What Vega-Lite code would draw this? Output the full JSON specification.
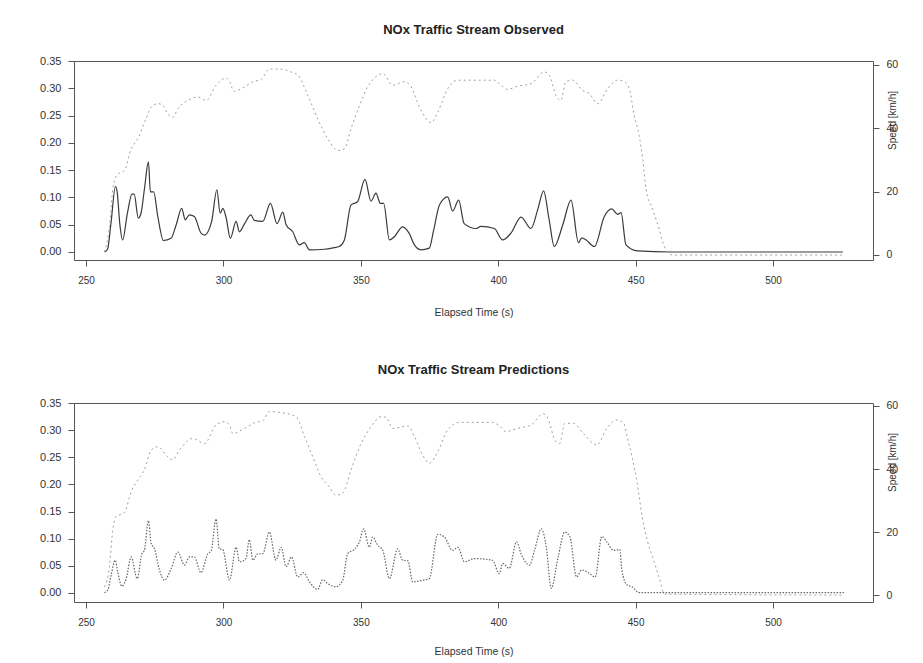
{
  "$schema": "https://vega.github.io/schema/vega-lite/v6.json",
  "padding": {"left": 39, "top": 23, "right": 5, "bottom": 2},
  "background": "white",
  "config": {
    "font": "Liberation Sans",
    "view": {"stroke": "#555", "strokeWidth": 1},
    "axis": {"grid": false, "domain": false, "tickColor": "#555", "tickSize": 6, "labelColor": "#333", "labelFont": "Liberation Sans", "labelFontSize": 10.5, "titleFont": "Liberation Sans", "titleFontWeight": "normal", "titleColor": "#333"},
    "title": {"font": "Liberation Sans", "fontSize": 13, "fontWeight": "bold", "color": "#222", "baseline": "alphabetic", "anchor": "middle"}
  },
  "spacing": 143,
  "bounds": "flush",
  "vconcat": [
    {
      "title": {"text": "NOx Traffic Stream Observed", "offset": 18},
      "width": 799,
      "height": 199,
      "layer": [
        {
          "data": {"name": "obs"},
          "mark": {"type": "line", "color": "#3a3a3a", "strokeWidth": 1.2, "interpolate": "monotone"},
          "encoding": {
            "x": {"field": "t", "type": "quantitative", "scale": {"domain": [245.6, 536.4], "nice": false, "zero": false},
              "axis": {"values": [250, 300, 350, 400, 450, 500], "title": "Elapsed Time (s)", "titleFontSize": 10.5, "titleBaseline": "middle", "titleY": 52, "labelPadding": 9, "labelFontSize": 10}},
            "y": {"field": "nox", "type": "quantitative", "scale": {"domain": [-0.0147, 0.35], "nice": false, "zero": false},
              "axis": {"values": [0, 0.05, 0.1, 0.15, 0.2, 0.25, 0.3, 0.35], "format": ".2f", "title": null, "labelFontSize": 11, "labelPadding": 7}}
          }
        },
        {
          "data": {"name": "obsSpeed"},
          "mark": {"type": "line", "color": "#a0a0a0", "strokeWidth": 1, "strokeDash": [2, 3], "interpolate": "monotone"},
          "encoding": {
            "x": {"field": "t", "type": "quantitative"},
            "y": {"field": "speed", "type": "quantitative", "scale": {"domain": [-1.58, 61.26], "nice": false, "zero": false},
              "axis": {"orient": "right", "values": [0, 20, 40, 60], "title": "Speed [km/h]", "titleAngle": 270, "titleX": 19, "titleY": 59, "titleAlign": "center", "titleBaseline": "middle", "titleFontSize": 10, "labelPadding": 7}}
          }
        }
      ],
      "resolve": {"scale": {"y": "independent"}}
    },
    {
      "title": {"text": "NOx Traffic Stream Predictions", "offset": 20},
      "width": 799,
      "height": 199,
      "layer": [
        {
          "data": {"name": "pred"},
          "mark": {"type": "line", "color": "#666", "strokeWidth": 1.2, "strokeDash": [1.5, 1.5], "interpolate": "monotone"},
          "encoding": {
            "x": {"field": "t", "type": "quantitative", "scale": {"domain": [245.6, 536.4], "nice": false, "zero": false},
              "axis": {"values": [250, 300, 350, 400, 450, 500], "title": "Elapsed Time (s)", "titleFontSize": 10.5, "titleBaseline": "middle", "titleY": 49, "labelPadding": 9, "labelFontSize": 10}},
            "y": {"field": "nox", "type": "quantitative", "scale": {"domain": [-0.0172, 0.3505], "nice": false, "zero": false},
              "axis": {"values": [0, 0.05, 0.1, 0.15, 0.2, 0.25, 0.3, 0.35], "format": ".2f", "title": null, "labelFontSize": 11, "labelPadding": 7}}
          }
        },
        {
          "data": {"name": "predSpeed"},
          "mark": {"type": "line", "color": "#a0a0a0", "strokeWidth": 1, "strokeDash": [2, 3], "interpolate": "monotone"},
          "encoding": {
            "x": {"field": "t", "type": "quantitative"},
            "y": {"field": "speed", "type": "quantitative", "scale": {"domain": [-2.2, 60.95], "nice": false, "zero": false},
              "axis": {"orient": "right", "values": [0, 20, 40, 60], "title": "Speed [km/h]", "titleAngle": 270, "titleX": 19, "titleY": 59, "titleAlign": "center", "titleBaseline": "middle", "titleFontSize": 10, "labelPadding": 7}}
          }
        }
      ],
      "resolve": {"scale": {"y": "independent"}}
    }
  ],
  "datasets": {
    "obs": [
      {"t": 256.7, "nox": 0}, {"t": 257.8, "nox": 0.005}, {"t": 259, "nox": 0.05}, {"t": 260.7, "nox": 0.12}, {"t": 261.3, "nox": 0.11}, {"t": 262.3, "nox": 0.05}, {"t": 263.3, "nox": 0.022}, {"t": 265, "nox": 0.07}, {"t": 266.7, "nox": 0.106}, {"t": 267.5, "nox": 0.106}, {"t": 269, "nox": 0.062}, {"t": 270, "nox": 0.071}, {"t": 271.2, "nox": 0.114}, {"t": 272.7, "nox": 0.165}, {"t": 273.4, "nox": 0.11}, {"t": 274.6, "nox": 0.11}, {"t": 276.1, "nox": 0.065}, {"t": 278.2, "nox": 0.021}, {"t": 280.9, "nox": 0.025}, {"t": 282.8, "nox": 0.05}, {"t": 284.8, "nox": 0.08}, {"t": 286.1, "nox": 0.059}, {"t": 287.6, "nox": 0.068}, {"t": 289.4, "nox": 0.065}, {"t": 291.9, "nox": 0.034}, {"t": 293.1, "nox": 0.031}, {"t": 295.7, "nox": 0.056}, {"t": 297.6, "nox": 0.114}, {"t": 298.8, "nox": 0.071}, {"t": 299.8, "nox": 0.08}, {"t": 301, "nox": 0.062}, {"t": 302.5, "nox": 0.025}, {"t": 304.6, "nox": 0.056}, {"t": 305.8, "nox": 0.037}, {"t": 307.6, "nox": 0.051}, {"t": 310, "nox": 0.068}, {"t": 311.2, "nox": 0.058}, {"t": 314.3, "nox": 0.056}, {"t": 317.1, "nox": 0.089}, {"t": 319.5, "nox": 0.052}, {"t": 321.6, "nox": 0.073}, {"t": 322.8, "nox": 0.05}, {"t": 325.2, "nox": 0.037}, {"t": 327.6, "nox": 0.013}, {"t": 329.4, "nox": 0.017}, {"t": 331.3, "nox": 0.004}, {"t": 336.7, "nox": 0.005}, {"t": 340.3, "nox": 0.008}, {"t": 342.1, "nox": 0.01}, {"t": 344, "nox": 0.022}, {"t": 346.4, "nox": 0.086}, {"t": 348.8, "nox": 0.092}, {"t": 351.5, "nox": 0.133}, {"t": 353.7, "nox": 0.093}, {"t": 355.5, "nox": 0.108}, {"t": 357.1, "nox": 0.089}, {"t": 358.3, "nox": 0.089}, {"t": 360.4, "nox": 0.022}, {"t": 362.2, "nox": 0.028}, {"t": 365.2, "nox": 0.046}, {"t": 367.6, "nox": 0.034}, {"t": 369.5, "nox": 0.013}, {"t": 371.9, "nox": 0.004}, {"t": 374.9, "nox": 0.007}, {"t": 376.5, "nox": 0.04}, {"t": 378.6, "nox": 0.086}, {"t": 381.6, "nox": 0.101}, {"t": 383.4, "nox": 0.075}, {"t": 385.6, "nox": 0.095}, {"t": 387.6, "nox": 0.052}, {"t": 391.9, "nox": 0.043}, {"t": 393.7, "nox": 0.047}, {"t": 398.6, "nox": 0.043}, {"t": 401.6, "nox": 0.022}, {"t": 404.7, "nox": 0.035}, {"t": 408.3, "nox": 0.064}, {"t": 411.9, "nox": 0.043}, {"t": 414.5, "nox": 0.08}, {"t": 416.5, "nox": 0.112}, {"t": 418.5, "nox": 0.06}, {"t": 420.4, "nox": 0.01}, {"t": 423.5, "nox": 0.05}, {"t": 426.5, "nox": 0.095}, {"t": 429.2, "nox": 0.017}, {"t": 430.4, "nox": 0.026}, {"t": 432, "nox": 0.022}, {"t": 435, "nox": 0.01}, {"t": 438.6, "nox": 0.065}, {"t": 441.3, "nox": 0.079}, {"t": 443.5, "nox": 0.069}, {"t": 444.7, "nox": 0.072}, {"t": 446.5, "nox": 0.013}, {"t": 450.7, "nox": 0.002}, {"t": 462.9, "nox": 0}, {"t": 525.4, "nox": 0}
    ],
    "obsSpeed": [
      {"t": 256.7, "speed": 1}, {"t": 258.5, "speed": 9}, {"t": 259.7, "speed": 20.6}, {"t": 260.3, "speed": 23.4}, {"t": 261.5, "speed": 25.5}, {"t": 263.9, "speed": 26.6}, {"t": 266.4, "speed": 33.5}, {"t": 268.8, "speed": 36.7}, {"t": 271.8, "speed": 43}, {"t": 273.7, "speed": 46.7}, {"t": 276.1, "speed": 47.8}, {"t": 277.9, "speed": 47.3}, {"t": 279.7, "speed": 44.6}, {"t": 281.6, "speed": 43.5}, {"t": 283.4, "speed": 46.2}, {"t": 287, "speed": 48.8}, {"t": 290.6, "speed": 49.9}, {"t": 293.7, "speed": 48.8}, {"t": 297.3, "speed": 53.6}, {"t": 301, "speed": 55.9}, {"t": 302.2, "speed": 54.8}, {"t": 303.8, "speed": 51.7}, {"t": 307.1, "speed": 52.8}, {"t": 310.7, "speed": 54.7}, {"t": 313.8, "speed": 55.5}, {"t": 316.7, "speed": 58.7}, {"t": 321, "speed": 58.7}, {"t": 324.6, "speed": 57.8}, {"t": 327.1, "speed": 56.8}, {"t": 330.7, "speed": 50.4}, {"t": 334.3, "speed": 43}, {"t": 338, "speed": 36.7}, {"t": 341.6, "speed": 33}, {"t": 344, "speed": 33.5}, {"t": 346.4, "speed": 39.8}, {"t": 349.5, "speed": 47.2}, {"t": 352.5, "speed": 53.1}, {"t": 355.5, "speed": 56.3}, {"t": 358, "speed": 57.3}, {"t": 361.6, "speed": 53.6}, {"t": 365.9, "speed": 54.7}, {"t": 368.3, "speed": 53.1}, {"t": 371.3, "speed": 46.7}, {"t": 374.3, "speed": 42.5}, {"t": 375.6, "speed": 41.8}, {"t": 378, "speed": 45.1}, {"t": 381.6, "speed": 52.5}, {"t": 385.3, "speed": 55.2}, {"t": 398.6, "speed": 55.2}, {"t": 401, "speed": 53.6}, {"t": 403.4, "speed": 52.3}, {"t": 407, "speed": 53.3}, {"t": 411.9, "speed": 54.1}, {"t": 416.8, "speed": 57.8}, {"t": 418.6, "speed": 56.8}, {"t": 421, "speed": 50.4}, {"t": 422.8, "speed": 48.8}, {"t": 424.6, "speed": 54.7}, {"t": 427.1, "speed": 55.2}, {"t": 430.7, "speed": 52}, {"t": 433.1, "speed": 51}, {"t": 436.2, "speed": 47.8}, {"t": 439.8, "speed": 52.5}, {"t": 443.5, "speed": 55.2}, {"t": 445.9, "speed": 54.7}, {"t": 447.7, "speed": 52.5}, {"t": 449.5, "speed": 44}, {"t": 451.3, "speed": 37.7}, {"t": 452.6, "speed": 30.3}, {"t": 453.8, "speed": 20.8}, {"t": 456.2, "speed": 14.4}, {"t": 458.6, "speed": 8.1}, {"t": 460.4, "speed": 2.8}, {"t": 463.5, "speed": 0}, {"t": 525.4, "speed": 0}
    ],
    "pred": [
      {"t": 256.7, "nox": 0}, {"t": 257.9, "nox": 0.005}, {"t": 259.1, "nox": 0.032}, {"t": 260.6, "nox": 0.06}, {"t": 261.5, "nox": 0.039}, {"t": 263, "nox": 0.012}, {"t": 264.6, "nox": 0.026}, {"t": 266.4, "nox": 0.066}, {"t": 268.6, "nox": 0.026}, {"t": 270.3, "nox": 0.072}, {"t": 271.2, "nox": 0.078}, {"t": 272.7, "nox": 0.133}, {"t": 273.7, "nox": 0.091}, {"t": 274.9, "nox": 0.081}, {"t": 276.7, "nox": 0.042}, {"t": 278.5, "nox": 0.023}, {"t": 281, "nox": 0.045}, {"t": 283.4, "nox": 0.075}, {"t": 285.8, "nox": 0.051}, {"t": 287.6, "nox": 0.066}, {"t": 289.4, "nox": 0.066}, {"t": 291.8, "nox": 0.037}, {"t": 294.3, "nox": 0.072}, {"t": 295.5, "nox": 0.077}, {"t": 297.3, "nox": 0.136}, {"t": 298.5, "nox": 0.081}, {"t": 299.7, "nox": 0.08}, {"t": 302.2, "nox": 0.023}, {"t": 304.6, "nox": 0.084}, {"t": 305.8, "nox": 0.057}, {"t": 308.2, "nox": 0.063}, {"t": 309.4, "nox": 0.098}, {"t": 310.7, "nox": 0.06}, {"t": 312.5, "nox": 0.072}, {"t": 314.3, "nox": 0.072}, {"t": 316.7, "nox": 0.112}, {"t": 319.1, "nox": 0.06}, {"t": 321, "nox": 0.084}, {"t": 322.8, "nox": 0.048}, {"t": 324.8, "nox": 0.066}, {"t": 327, "nox": 0.029}, {"t": 329.2, "nox": 0.037}, {"t": 331.3, "nox": 0.02}, {"t": 334.3, "nox": 0.006}, {"t": 336.1, "nox": 0.024}, {"t": 337.9, "nox": 0.017}, {"t": 341, "nox": 0.011}, {"t": 343.4, "nox": 0.023}, {"t": 345.2, "nox": 0.072}, {"t": 347.6, "nox": 0.08}, {"t": 349.5, "nox": 0.094}, {"t": 351, "nox": 0.118}, {"t": 353.1, "nox": 0.084}, {"t": 354.3, "nox": 0.103}, {"t": 356.1, "nox": 0.088}, {"t": 358, "nox": 0.078}, {"t": 360.4, "nox": 0.026}, {"t": 363.4, "nox": 0.081}, {"t": 365.2, "nox": 0.06}, {"t": 367.1, "nox": 0.059}, {"t": 368.9, "nox": 0.02}, {"t": 372.5, "nox": 0.023}, {"t": 374.9, "nox": 0.026}, {"t": 378, "nox": 0.108}, {"t": 380.4, "nox": 0.103}, {"t": 383.4, "nox": 0.078}, {"t": 385.3, "nox": 0.084}, {"t": 387.7, "nox": 0.057}, {"t": 391.3, "nox": 0.063}, {"t": 397.9, "nox": 0.06}, {"t": 400.4, "nox": 0.035}, {"t": 401.6, "nox": 0.054}, {"t": 404, "nox": 0.045}, {"t": 406.7, "nox": 0.094}, {"t": 408.3, "nox": 0.072}, {"t": 411.4, "nox": 0.051}, {"t": 413.2, "nox": 0.078}, {"t": 415.7, "nox": 0.118}, {"t": 417.5, "nox": 0.084}, {"t": 419.3, "nox": 0.008}, {"t": 421.8, "nox": 0.066}, {"t": 424.2, "nox": 0.112}, {"t": 426.1, "nox": 0.103}, {"t": 428.5, "nox": 0.029}, {"t": 430.4, "nox": 0.042}, {"t": 432.8, "nox": 0.037}, {"t": 435.3, "nox": 0.029}, {"t": 437.7, "nox": 0.104}, {"t": 439.5, "nox": 0.094}, {"t": 442, "nox": 0.078}, {"t": 444.2, "nox": 0.08}, {"t": 445, "nox": 0.042}, {"t": 446.9, "nox": 0.014}, {"t": 448.7, "nox": 0.011}, {"t": 451.2, "nox": 0}, {"t": 525.8, "nox": 0}
    ],
    "predSpeed": [
      {"t": 256.7, "speed": 2.6}, {"t": 258.5, "speed": 9}, {"t": 259.7, "speed": 20.6}, {"t": 260.9, "speed": 24.9}, {"t": 263.9, "speed": 26.1}, {"t": 266.4, "speed": 32.8}, {"t": 268.8, "speed": 36.5}, {"t": 271.2, "speed": 39.7}, {"t": 273.7, "speed": 46}, {"t": 276.1, "speed": 47.1}, {"t": 279.7, "speed": 43.9}, {"t": 281.5, "speed": 42.9}, {"t": 284, "speed": 46}, {"t": 288.8, "speed": 49.7}, {"t": 293.1, "speed": 48.1}, {"t": 297.3, "speed": 54}, {"t": 300.3, "speed": 55}, {"t": 302.2, "speed": 54}, {"t": 303.4, "speed": 51.3}, {"t": 307.6, "speed": 52.9}, {"t": 311.3, "speed": 54.7}, {"t": 314.3, "speed": 55.3}, {"t": 316.7, "speed": 58.2}, {"t": 321, "speed": 57.9}, {"t": 326.4, "speed": 56.6}, {"t": 329.5, "speed": 50.3}, {"t": 332.5, "speed": 43.9}, {"t": 335.5, "speed": 37.6}, {"t": 338, "speed": 34.9}, {"t": 341, "speed": 31.7}, {"t": 343.4, "speed": 32.3}, {"t": 346.4, "speed": 39.7}, {"t": 350.1, "speed": 48.1}, {"t": 353.7, "speed": 53.4}, {"t": 357.4, "speed": 56.6}, {"t": 359.2, "speed": 56.4}, {"t": 361.6, "speed": 52.9}, {"t": 367.1, "speed": 53.7}, {"t": 369.5, "speed": 50.3}, {"t": 372.5, "speed": 44.4}, {"t": 374.9, "speed": 41.8}, {"t": 378, "speed": 45.5}, {"t": 381.6, "speed": 52.4}, {"t": 385.9, "speed": 54.8}, {"t": 397.9, "speed": 54.8}, {"t": 400.4, "speed": 53.7}, {"t": 402.8, "speed": 51.9}, {"t": 407.1, "speed": 52.9}, {"t": 412, "speed": 54}, {"t": 416.3, "speed": 57.5}, {"t": 418.1, "speed": 56.1}, {"t": 420.6, "speed": 49.2}, {"t": 422.4, "speed": 48.1}, {"t": 424.2, "speed": 54.5}, {"t": 427.3, "speed": 54.5}, {"t": 431, "speed": 51.3}, {"t": 435.9, "speed": 47.6}, {"t": 439.5, "speed": 52.9}, {"t": 443.2, "speed": 55.6}, {"t": 445.7, "speed": 54.5}, {"t": 446.9, "speed": 50.3}, {"t": 448.7, "speed": 43.9}, {"t": 450.6, "speed": 35.4}, {"t": 452.4, "speed": 24.9}, {"t": 454.2, "speed": 17.5}, {"t": 456.1, "speed": 12.2}, {"t": 458.5, "speed": 5.8}, {"t": 460.6, "speed": 0.3}, {"t": 525.8, "speed": 0}
    ]
  }
}
